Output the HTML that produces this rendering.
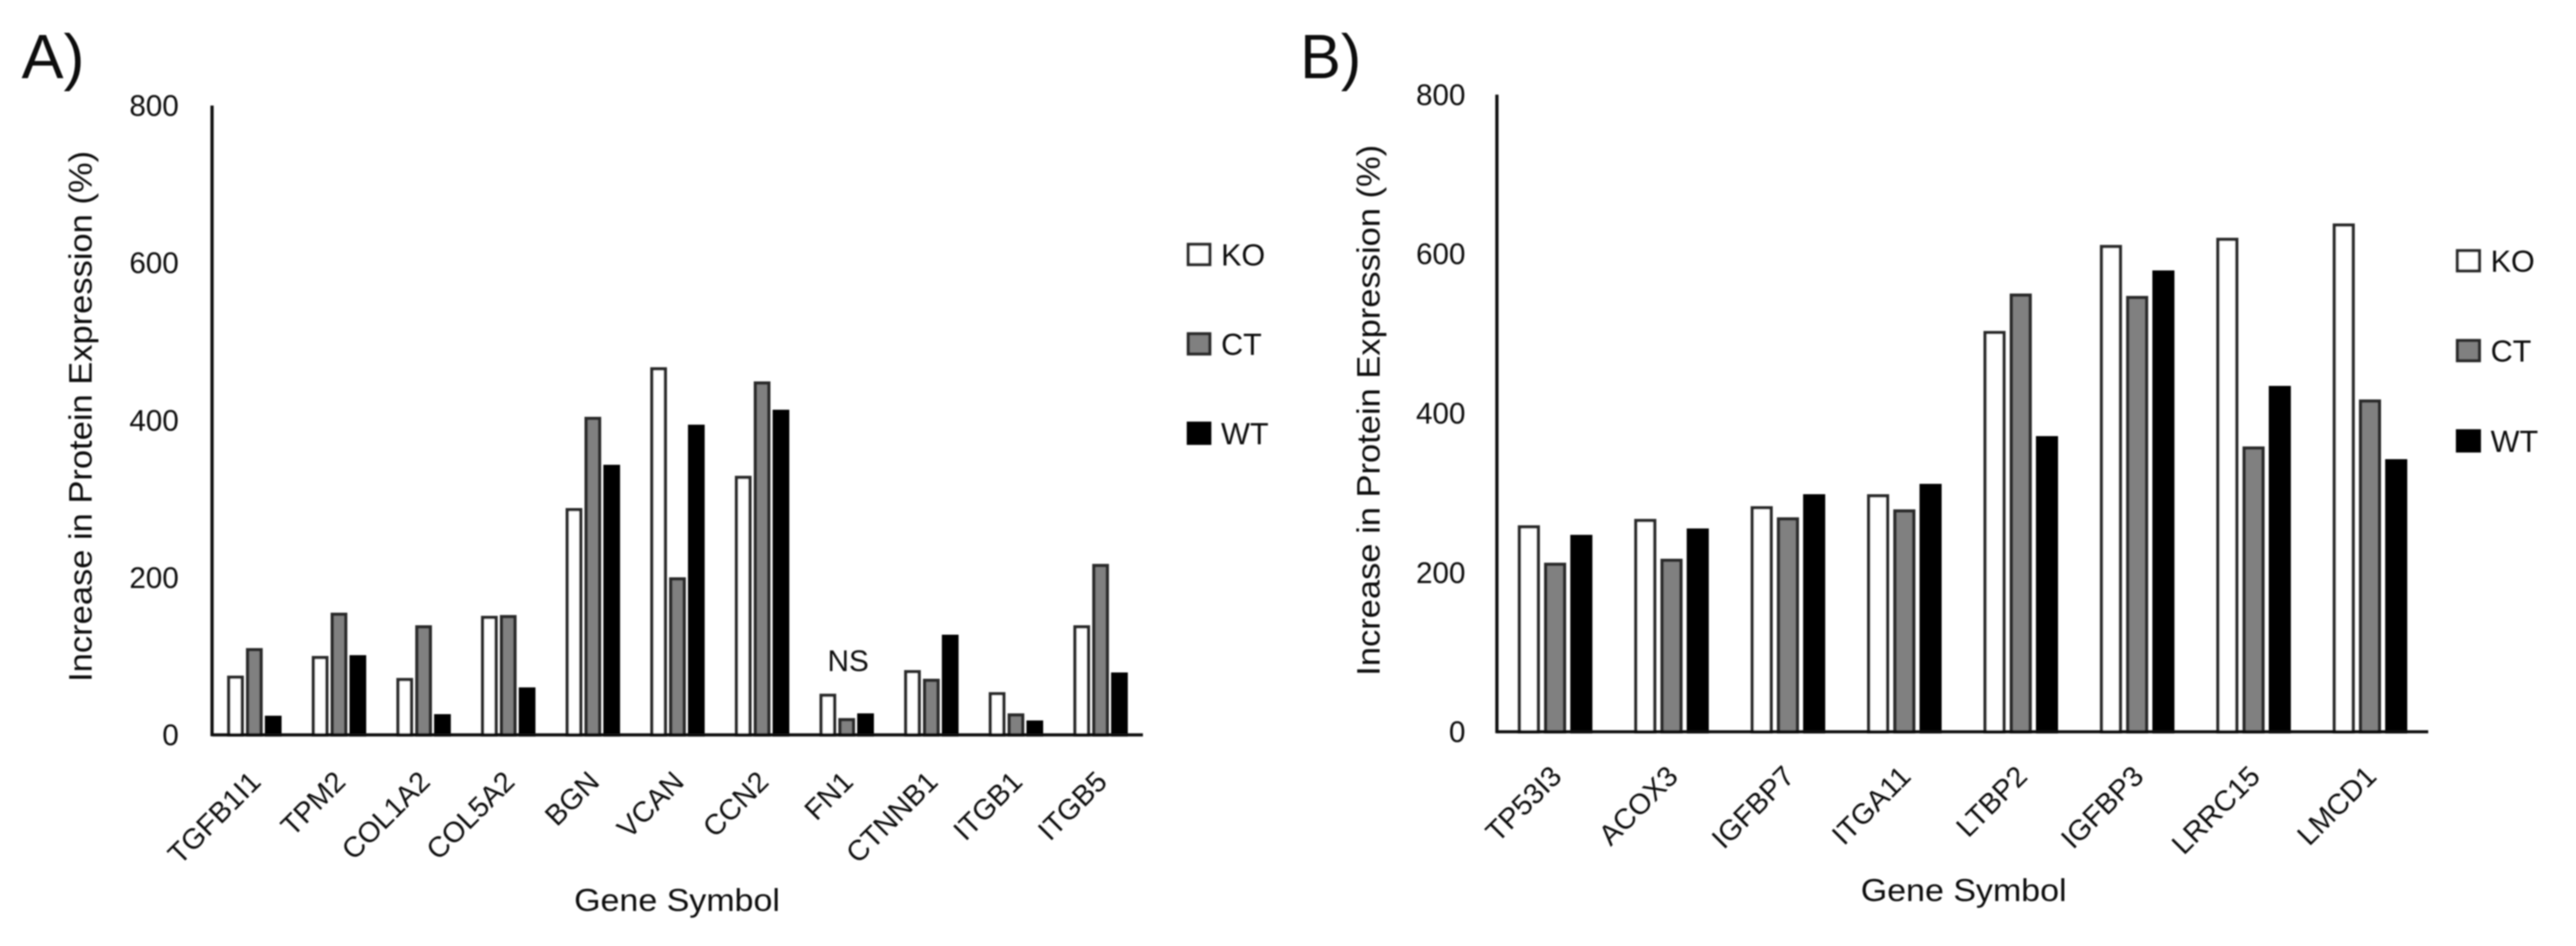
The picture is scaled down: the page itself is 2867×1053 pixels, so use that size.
<!DOCTYPE html>
<html lang="en">
<head>
<meta charset="utf-8">
<title>Increase in Protein Expression by Gene Symbol</title>
<style>
html,body{margin:0;padding:0;background:#fff;width:2867px;height:1053px;overflow:hidden}
svg{display:block}
text{font-family:"Liberation Sans",sans-serif;fill:#111}
</style>
</head>
<body>
<svg id="figure" xmlns="http://www.w3.org/2000/svg" width="2867" height="1053" viewBox="0 0 2867 1053">
  <defs>
    <filter id="soft" x="-2%" y="-2%" width="104%" height="104%"><feGaussianBlur stdDeviation="0.8"/></filter>
  </defs>
  <rect width="2867" height="1053" fill="#fff"/>
  <g id="root" filter="url(#soft)">
    <text x="24" y="87" font-size="70" textLength="70" lengthAdjust="spacingAndGlyphs">A)</text>
    <text x="1447" y="87" font-size="70" textLength="68" lengthAdjust="spacingAndGlyphs">B)</text>
    <g id="panel-a"></g>
    <g id="panel-b"></g>
    <text x="944" y="747" font-size="33" text-anchor="middle" textLength="46" lengthAdjust="spacingAndGlyphs">NS</text>
  </g>
</svg>
<script>
const seriesNames = ['KO', 'CT', 'WT'];
const yTicks = [0, 200, 400, 600, 800];

const categoriesA = ['TGFB1I1', 'TPM2', 'COL1A2', 'COL5A2', 'BGN', 'VCAN', 'CCN2', 'FN1', 'CTNNB1', 'ITGB1', 'ITGB5'];
const koA = [75, 100, 72, 151, 288, 467, 329, 52, 82, 54, 139];
const ctA = [110, 155, 139, 152, 404, 200, 449, 21, 71, 27, 217];
const wtA = [24, 101, 26, 60, 343, 394, 413, 27, 127, 18, 79];

const categoriesB = ['TP53I3', 'ACOX3', 'IGFBP7', 'ITGA11', 'LTBP2', 'IGFBP3', 'LRRC15', 'LMCD1'];
const koB = [259, 267, 283, 298, 503, 611, 620, 638];
const ctB = [212, 217, 269, 279, 550, 547, 358, 417];
const wtB = [247, 255, 298, 311, 371, 579, 434, 342];

const NS = 'http://www.w3.org/2000/svg';
const fills = ['#ffffff', '#808080', '#050505'];
const strokes = ['#2a2a2a', '#2a2a2a', '#050505'];

function make(parent, tag, attrs, content) {
  const node = document.createElementNS(NS, tag);
  for (const key in attrs) node.setAttribute(key, attrs[key]);
  if (content !== undefined) node.textContent = content;
  parent.appendChild(node);
  return node;
}

function drawPanel(cfg) {
  const root = document.getElementById(cfg.id);
  const yScale = v => cfg.yBase - (v / 800) * (cfg.yBase - cfg.yTop);
  const band = (cfg.xEnd - cfg.xAxis) / cfg.categories.length;
  const xCenter = i => cfg.xAxis + band * (i + 0.5);

  // y tick labels
  yTicks.forEach(t => {
    const label = make(root, 'text', {x: cfg.tickRight, y: yScale(t) + 11.5, 'font-size': 33, 'text-anchor': 'end'}, String(t));
    
    
  });

  // bars
  cfg.categories.forEach((cat, i) => {
    cfg.series.forEach((vals, s) => {
      const left = xCenter(i) - (cfg.pitch * 2 + cfg.barW) / 2 + s * cfg.pitch;
      const top = yScale(vals[i]);
      const bar = make(root, 'rect', {
        x: left + 2, y: top + 1.5,
        width: cfg.barW - 4, height: Math.max(cfg.yBase - top - 1.5, 0),
        fill: fills[s], stroke: strokes[s], 'stroke-width': 3.6
      });
      
      
    });
    const label = make(root, 'text', {
      'font-size': 32, 'text-anchor': 'end',
      transform: 'translate(' + (xCenter(i) + 9) + ',' + cfg.labelY + ') rotate(-45)'
    }, cat);
    
    
  });

  // axes
  const yAxis = make(root, 'line', {x1: cfg.xAxis, x2: cfg.xAxis, y1: cfg.yTop, y2: cfg.yBase + 1.5, stroke: '#111', 'stroke-width': 3.6});
  
  
  const xAxis = make(root, 'line', {x1: cfg.xAxis, x2: cfg.xEnd, y1: cfg.yBase, y2: cfg.yBase, stroke: '#111', 'stroke-width': 3.4});
  
  

  // axis titles
  const yTitle = make(root, 'text', {
    'font-size': 36, 'text-anchor': 'middle', textLength: 591, lengthAdjust: 'spacingAndGlyphs',
    transform: 'translate(' + cfg.yTitleX + ',' + cfg.yTitleY + ') rotate(-90)'
  }, 'Increase in Protein Expression (%)');
  
  
  const xTitle = make(root, 'text', {
    x: cfg.xTitleX, y: cfg.xTitleY, 'font-size': 35, textLength: 229, lengthAdjust: 'spacingAndGlyphs'
  }, 'Gene Symbol');
  
  

  // legend
  seriesNames.forEach((name, s) => {
    const sw = make(root, 'rect', {
      x: cfg.legendX + 1.5, y: cfg.legendY[s] + 1.5,
      width: cfg.legendW - 3, height: 22.5,
      fill: fills[s], stroke: strokes[s], 'stroke-width': 3.4
    });
    
    
    const tx = make(root, 'text', {x: cfg.legendTextX, y: cfg.legendY[s] + 25, 'font-size': 34}, name);
    
    
  });
}

drawPanel({
  id: 'panel-a', categories: categoriesA, series: [koA, ctA, wtA],
  xAxis: 236, xEnd: 1272, yTop: 117.5, yBase: 818,
  barW: 19, pitch: 21, tickRight: 199, labelY: 872,
  yTitleX: 102, yTitleY: 463.5, xTitleX: 639, xTitleY: 1014,
  legendX: 1321, legendW: 27, legendY: [270.5, 370, 469.5], legendTextX: 1359
});

drawPanel({
  id: 'panel-b', categories: categoriesB, series: [koB, ctB, wtB],
  xAxis: 1666, xEnd: 2702.5, yTop: 105.4, yBase: 814.6,
  barW: 25, pitch: 29.2, tickRight: 1631, labelY: 866,
  yTitleX: 1535.5, yTitleY: 456.7, xTitleX: 2071, xTitleY: 1003,
  legendX: 2733.5, legendW: 27.5, legendY: [277.5, 377.5, 478], legendTextX: 2772
});
</script>
</body>
</html>
